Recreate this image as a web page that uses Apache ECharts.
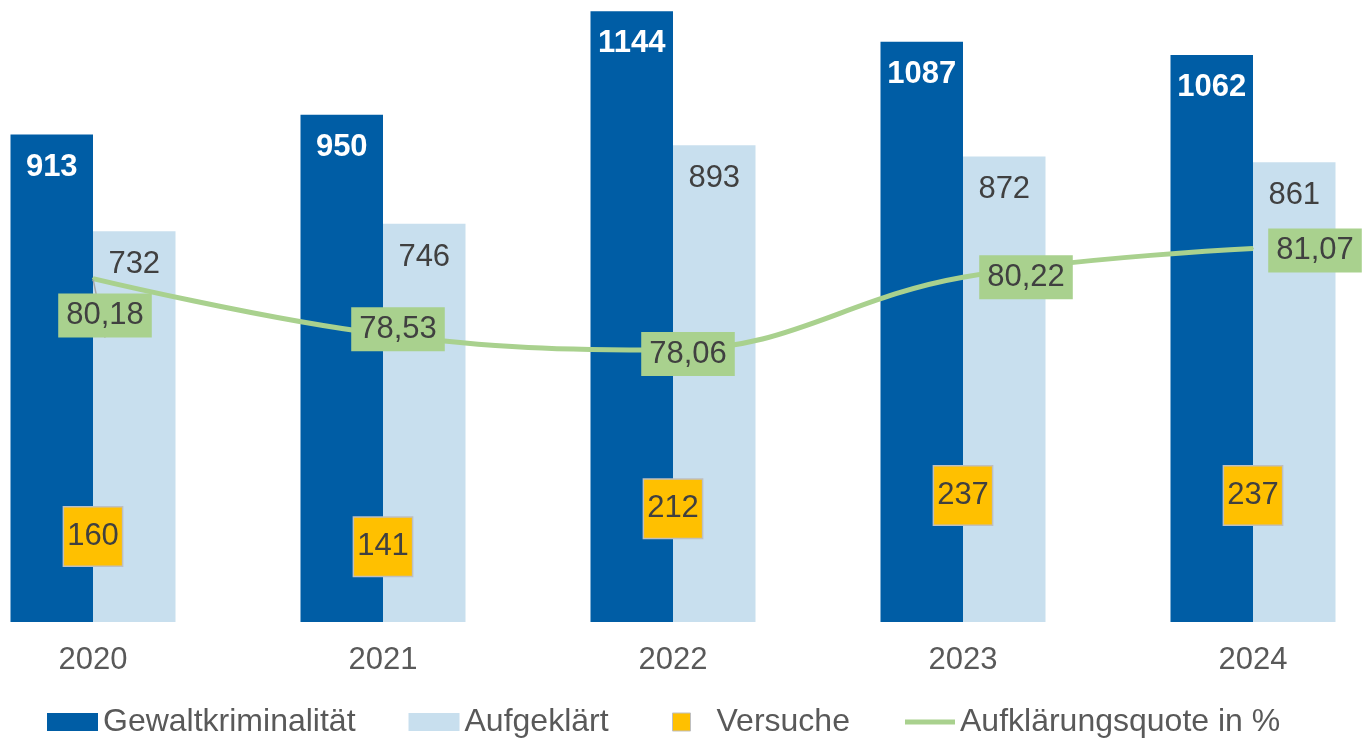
<!DOCTYPE html>
<html>
<head>
<meta charset="utf-8">
<title>Gewaltkriminalität</title>
<script src="https://cdn.jsdelivr.net/npm/echarts@6/dist/echarts.min.js"></script>
<style>
  html, body { margin: 0; padding: 0; background: #fff; overflow: hidden; }
  /* the plot runs past both edges in the original, so the chart is wider and shifted left */
  #main { width: 1450px; height: 738px; position: relative; left: -52px; }
</style>
</head>
<body>
<div id="main"></div>
<script>
var years = ["2020", "2021", "2022", "2023", "2024"];
var gewalt = [913, 950, 1144, 1087, 1062];
var aufgeklaert = [732, 746, 893, 872, 861];
var versuche = [160, 141, 212, 237, 237];
var quote = [80.18, 78.53, 78.06, 80.22, 81.07];

// die grünen Kästchen sind im Original von Hand verschoben
var quoteOffsets = [[12, 37], [15, -5], [15, 4], [63, 0], [62, 2]];

var font = "Liberation Sans, Arial, sans-serif";
var textColor = "#404040";
var legendText = { fontFamily: font, fontSize: 32, color: "#595959" };

function komma(v) {
  return v.toFixed(2).replace(".", ",");
}

var chart = echarts.init(document.getElementById("main"));

chart.setOption({
  animation: false,
  textStyle: { fontFamily: font },
  grid: {
    left: 0,
    right: 0,
    top: 8,
    bottom: 116,
    containLabel: false,
  },
  // drei Legenden, weil die Abstände im Original ungleich sind
  legend: [
    {
      left: 94,
      top: 701,
      icon: "rect",
      itemWidth: 51,
      itemHeight: 18,
      itemGap: 53,
      textStyle: legendText,
      data: ["Gewaltkriminalität", "Aufgeklärt"],
    },
    {
      left: 719,
      top: 701,
      icon: "rect",
      itemWidth: 18,
      itemHeight: 18,
      textStyle: Object.assign({ padding: [0, 0, 0, 21] }, legendText),
      data: [
        {
          name: "Versuche",
          itemStyle: { color: "#FFC000", borderColor: "#BFBFBF", borderWidth: 1 },
        },
      ],
    },
    {
      left: 952,
      top: 701,
      itemWidth: 50,
      itemHeight: 18,
      textStyle: legendText,
      data: [
        {
          name: "Aufklärungsquote in %",
          icon: "path://M0,0H100V10H0Z",
          itemStyle: { color: "#A9D18E" },
        },
      ],
    },
  ],
  xAxis: {
    type: "category",
    data: years,
    axisLine: { show: false },
    axisTick: { show: false },
    axisLabel: { fontSize: 31, color: "#595959", margin: 23 },
  },
  yAxis: [
    { type: "value", min: 0, max: 1150, show: false },
    { type: "value", min: 70, max: 88.2, show: false },
  ],
  series: [
    {
      name: "Gewaltkriminalität",
      type: "bar",
      data: gewalt,
      barWidth: 82.5,
      barGap: "0%",
      itemStyle: { color: "#005DA5" },
      label: {
        show: true,
        position: "insideTop",
        distance: 17,
        color: "#fff",
        fontWeight: "bold",
        fontSize: 31,
        fontFamily: font,
      },
    },
    {
      name: "Aufgeklärt",
      type: "bar",
      data: aufgeklaert,
      barWidth: 82.5,
      barGap: "0%",
      itemStyle: { color: "#C8DFEE" },
      label: {
        show: true,
        position: "insideTop",
        distance: 18,
        color: textColor,
        fontSize: 31,
        fontFamily: font,
      },
    },
    {
      name: "Versuche",
      type: "scatter",
      data: versuche,
      symbolSize: 1,
      itemStyle: { color: "rgba(0,0,0,0)", opacity: 1 },
      z: 4,
      label: {
        show: true,
        position: "inside",
        color: textColor,
        fontSize: 31,
        fontFamily: font,
        lineHeight: 36,
        backgroundColor: "#FFC000",
        borderColor: "#BFBFBF",
        borderWidth: 1.5,
        padding: [11, 3],
      },
    },
    {
      name: "Aufklärungsquote in %",
      type: "line",
      yAxisIndex: 1,
      smooth: 0.4,
      symbol: "circle",
      symbolSize: 2,
      itemStyle: { color: "#A9D18E" },
      lineStyle: { color: "#A9D18E", width: 5 },
      z: 5,
      data: quote.map(function (v, i) {
        return {
          value: v,
          label: { offset: quoteOffsets[i] },
          labelLine: { show: i === 0 },
        };
      }),
      labelLine: { show: false, lineStyle: { color: "#A6A6A6", width: 1.5 } },
      label: {
        show: true,
        position: "inside",
        formatter: function (p) {
          return komma(p.value);
        },
        color: textColor,
        fontSize: 31,
        fontFamily: font,
        lineHeight: 36,
        backgroundColor: "#A9D18E",
        padding: [4, 8],
      },
    },
  ],
});
</script>
</body>
</html>
